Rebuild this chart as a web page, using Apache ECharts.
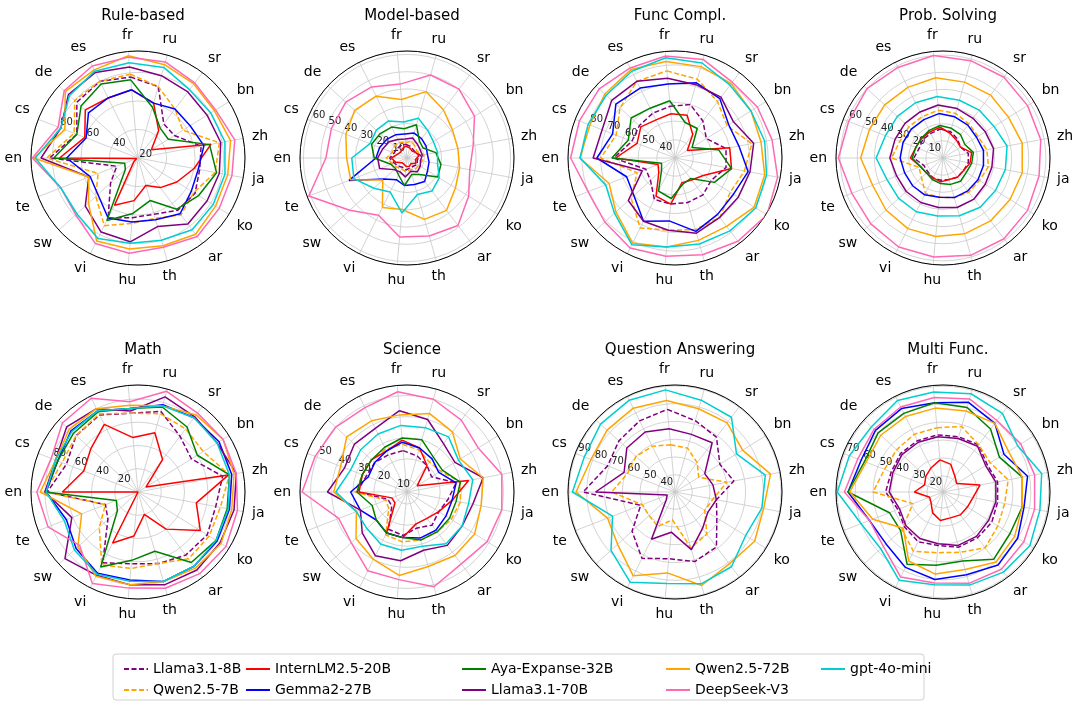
<!DOCTYPE html>
<html><head><meta charset="utf-8">
<script src="https://cdn.jsdelivr.net/npm/echarts@6/dist/echarts.min.js"></script>
<style>html,body{margin:0;padding:0;background:#fff}#c{width:1080px;height:706px}</style>
</head><body><div id="c"></div>
<script>
// ---------------- data ----------------
const languages = ['fr','ru','sr','bn','zh','ja','ko','ar','th','hu','vi','sw','te','en','cs','de','es'];
const models = ['Llama3.1-8B','Qwen2.5-7B','InternLM2.5-20B','Gemma2-27B','Aya-Expanse-32B','Llama3.1-70B','Qwen2.5-72B','DeepSeek-V3','gpt-4o-mini'];
const panelTitles = ['Rule-based','Model-based','Func Compl.','Prob. Solving','Math','Science','Question Answering','Multi Func.'];
// radial axis per panel: centre value, outer value, tick step
const radialMin  = [20, 0, 30.3, 0, 0, 4.3, 30.3, 11];
const radialMax  = [95, 62, 87.4, 62.4, 92, 55, 90.5, 70.7];
const radialStep = [20, 10, 10, 10, 20, 10, 10, 10];

// rows follow the order of `models`; values follow the order of `languages`
const ruleBased = [
  [77,72,50,50,65,64,67,66,61,62,67,46,36,82,66,78,80],
  [79,72,63,57,78,75,66,70,64,66,73,60,50,84,68,80,80],
  [68,60,44,31,72,60,52,46,40,50,57,24,21,75,60,70,67],
  [68,60,63,63,67,63,64,69,65,65,67,58,56,70,59,67,67],
  [75,57,46,45,71,76,70,65,51,59,69,32,30,79,66,74,78],
  [84,80,78,77,79,78,77,78,70,79,78,70,57,88,78,86,87],
  [92,88,85,83,86,84,84,87,84,84,85,67,57,93,75,89,89],
  [91,90,86,84,89,87,87,89,85,87,87,79,78,94,80,90,92],
  [87,86,80,80,82,82,82,83,80,80,83,78,78,92,78,85,88]
];
const modelBased = [
  [8,7,6,6,8,6,7,6,6,7,6,7,8,10,8,8,8],
  [9,10,8,7,10,9,8,8,7,8,7,8,9,12,9,10,10],
  [7,6,5,6,7,5,6,4,5,5,4,4,7,9,6,5,6],
  [14,15,14,13,12,13,14,17,16,16,14,18,36,18,17,16,15],
  [17,20,12,11,17,20,21,12,10,16,11,9,10,19,22,21,20],
  [11,12,10,9,9,8,9,10,8,11,9,10,17,17,15,14,12],
  [34,40,35,31,30,31,33,38,37,30,32,19,35,35,38,41,40],
  [43,50,50,46,39,37,42,49,47,46,37,45,61,47,47,48,46],
  [21,24,20,18,18,18,22,24,22,32,22,26,33,32,23,24,24]
];
const funcCompl = [
  [58,60,55,50,58,58,53,55,55,55,55,48,47,63,55,56,57],
  [77,74,68,63,72,68,65,70,70,69,72,62,52,70,64,70,76],
  [54,54,46,38,60,61,48,45,44,55,53,42,40,62,52,55,53],
  [70,72,70,64,65,70,67,68,71,64,68,60,58,72,66,73,72],
  [61,50,50,41,54,61,55,44,45,52,50,40,38,64,57,62,60],
  [73,71,71,67,73,71,70,70,72,69,68,64,49,74,72,76,76],
  [82,81,80,78,77,79,80,76,76,78,81,73,68,81,79,81,83],
  [85,85,81,82,83,86,88,86,84,83,84,81,80,86,85,85,84],
  [84,83,79,78,79,80,81,79,78,78,82,74,70,81,80,80,82]
];
const probSolving = [
  [17,16,14,12,15,15,14,14,13,13,13,12,12,17,15,16,16],
  [28,27,25,24,26,27,25,25,24,23,23,17,15,30,27,27,27],
  [18,15,13,12,17,16,14,14,13,14,13,13,14,19,17,17,17],
  [26,25,24,23,24,24,24,24,24,23,24,24,24,25,25,25,25],
  [19,18,17,15,18,17,16,17,16,15,14,13,14,18,17,17,18],
  [31,30,29,29,30,29,29,30,30,29,29,29,29,31,30,30,30],
  [47,46,46,45,47,47,46,46,46,46,46,45,44,48,46,46,46],
  [60,59,59,58,58,57,58,59,59,58,58,57,57,61,59,60,59],
  [36,35,35,35,38,37,36,36,35,34,35,35,35,39,36,36,36]
];
const math = [
  [68,72,60,54,74,68,70,68,64,62,68,35,30,78,66,72,74],
  [68,70,68,66,80,72,72,72,64,66,70,45,30,80,70,72,75],
  [47,53,35,8,79,51,63,40,20,38,49,0,0,65,50,55,65],
  [72,78,80,82,82,80,80,80,80,76,78,72,66,79,74,78,78],
  [72,76,70,60,80,78,79,76,53,59,72,24,20,80,74,75,77],
  [70,85,81,80,86,84,83,84,83,80,80,85,61,80,76,83,80],
  [75,77,83,86,84,82,84,82,80,80,81,70,52,84,76,80,80],
  [78,90,85,86,86,87,89,88,86,83,88,68,83,87,80,88,90],
  [72,77,80,80,80,79,79,80,80,77,79,74,68,79,76,77,78]
];
const science = [
  [24,22,20,18,28,24,22,24,22,25,24,14,14,28,25,25,24],
  [27,25,22,23,30,30,29,28,28,28,27,16,15,29,27,27,27],
  [29,26,20,10,34,26,22,20,20,26,26,12,12,27,27,27,26],
  [28,26,24,22,28,26,26,27,27,26,26,24,28,31,24,25,26],
  [30,30,25,24,30,28,28,28,28,26,26,24,22,28,27,27,28],
  [43,40,33,31,41,36,35,36,33,37,38,33,28,42,36,38,38],
  [41,43,40,34,41,40,42,42,41,44,40,37,30,39,38,43,42],
  [52,50,47,44,50,50,49,47,51,46,46,40,39,54,51,50,49],
  [36,36,37,33,36,34,35,35,31,32,32,30,30,38,33,34,35]
];
const questionAnswering = [
  [77,72,69,60,64,54,58,69,71,68,72,63,51,82,71,73,75],
  [57,56,51,46,60,52,50,60,63,46,52,50,50,66,59,60,59],
  null,
  null,
  null,
  [66,64,65,50,52,54,52,56,64,53,60,37,35,75,61,67,68],
  [82,79,79,75,85,81,83,81,85,76,83,74,71,86,81,82,83],
  null,
  [88,84,83,71,82,80,77,83,84,82,87,79,68,88,85,87,88]
];
const multiFunc = [
  [43,43,44,40,42,42,43,43,43,41,42,40,38,43,42,43,43],
  [47,49,44,42,48,46,47,50,46,45,48,42,29,50,46,46,47],
  [29,27,22,20,32,28,27,27,26,27,24,20,19,27,22,24,26],
  [61,63,59,51,59,57,60,62,59,60,58,54,55,64,60,62,63],
  [61,60,55,48,56,56,55,58,51,52,56,43,43,64,58,60,60],
  [42,42,43,39,41,41,41,42,42,40,40,39,37,41,41,42,42],
  [58,58,59,54,56,56,58,60,56,57,54,41,53,63,57,58,58],
  [64,65,61,62,63,63,64,65,64,62,64,56,55,66,62,63,64],
  [67,68,66,60,67,66,68,67,65,63,66,58,60,70,67,65,68]
];
const panels = [ruleBased, modelBased, funcCompl, probSolving, math, science, questionAnswering, multiFunc];

// ---------------- styling ----------------
const colors = ['#800080','#FFA500','#FF0000','#0000FF','#008000','#800080','#FFA500','#FF69B4','#00CED1'];
const dashed = [true,true,false,false,false,false,false,false,false];
const centersX = [138, 407, 675, 943];
const centersY = [158, 492];
const R = 107;
const FONT = 'DejaVu Sans';
const N = languages.length;

const polar = [], angleAxis = [], radiusAxis = [], series = [], title = [];
panels.forEach((rows, k) => {
  const x = centersX[k % 4], y = centersY[Math.floor(k / 4)];
  const pi = polar.length;
  const mn = radialMin[k], mx = radialMax[k], st = radialStep[k];
  polar.push({center: [x, y], radius: [0, R]});
  polar.push({center: [x, y], radius: [0, R]});
  angleAxis.push({
    polarIndex: pi, type: 'value', min: 0, max: N, interval: 1,
    startAngle: 90 + 90 / N, clockwise: true,
    axisLine: {show: true, lineStyle: {color: '#000', width: 1}},
    axisTick: {show: false},
    splitLine: {show: true, lineStyle: {color: '#c8c8c8', width: 0.8}},
    axisLabel: {margin: 9, fontSize: 14, color: '#000', fontFamily: FONT,
      formatter: v => (languages[Math.round(v)] && Math.round(v) < N) ? languages[Math.round(v)] : ''}
  });
  angleAxis.push({polarIndex: pi + 1, type: 'value', min: 0, max: N, startAngle: 157.5, show: false});
  radiusAxis.push({
    polarIndex: pi, type: 'value', min: mn, max: mx, minInterval: st, maxInterval: st,
    axisLine: {show: false}, axisTick: {show: false}, axisLabel: {show: false},
    splitLine: {show: true, lineStyle: {color: '#c8c8c8', width: 0.8}}
  });
  radiusAxis.push({
    polarIndex: pi + 1, type: 'value', min: mn, max: mx, minInterval: st, maxInterval: st,
    axisLine: {show: false}, axisTick: {show: false}, splitLine: {show: false},
    axisLabel: {show: true, margin: -3.5, align: 'left', verticalAlign: 'middle',
      fontSize: 10, color: '#222', fontFamily: FONT,
      formatter: v => {
        const q = v / st;
        return (Math.abs(q - Math.round(q)) < 1e-6 && v > 1e-6 && v < mx - 1e-6) ? String(Math.round(v)) : '';
      }}
  });
  title.push({
    text: panelTitles[k], left: x, top: k < 4 ? 4 : 338, textAlign: 'center',
    textStyle: {fontSize: 15, fontWeight: 'normal', color: '#000', fontFamily: FONT}
  });
  rows.forEach((vals, m) => {
    if (!vals) return;
    const data = vals.map((v, i) => [v, i]);
    data.push([vals[0], N]);
    series.push({
      type: 'line', name: models[m], coordinateSystem: 'polar', polarIndex: pi,
      data, symbol: 'none', silent: true, z: 2 + m * 0.01,
      lineStyle: {color: colors[m], width: 1.5, type: dashed[m] ? [5, 2.5] : 'solid'},
      itemStyle: {color: colors[m]}
    });
  });
});

const legendCols = [[0, 1], [2, 3], [4, 5], [6, 7], [8]];
const legendLeft = [118, 240, 456, 660, 815];
const legend = legendCols.map((col, j) => ({
  orient: 'vertical', left: legendLeft[j], top: 657, itemGap: 7,
  itemWidth: 24, itemHeight: 14, selectedMode: false,
  itemStyle: {opacity: 0},
  data: col.map(m => models[m]),
  textStyle: {fontSize: 14, color: '#000', fontFamily: FONT}
}));

const chart = echarts.init(document.getElementById('c'), null, {renderer: 'canvas'});
chart.setOption({
  animation: false,
  backgroundColor: '#fff',
  title, polar, angleAxis, radiusAxis, series, legend,
  graphic: [{type: 'rect', shape: {x: 113, y: 654, width: 811, height: 46, r: 3},
    style: {fill: 'none', stroke: '#d0d0d0', lineWidth: 1}, silent: true}]
});
</script></body></html>
